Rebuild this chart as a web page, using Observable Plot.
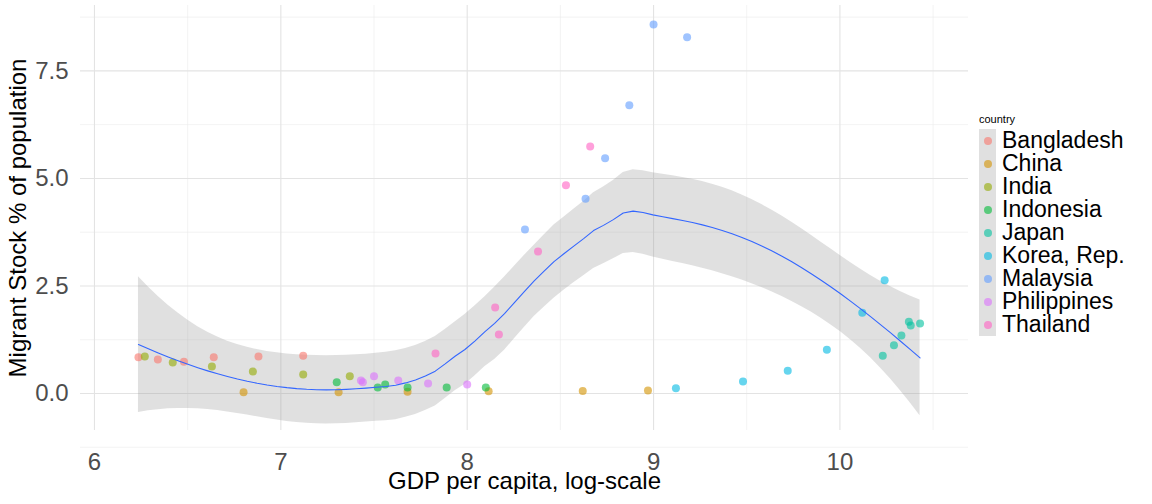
<!DOCTYPE html>
<html><head><meta charset="utf-8">
<script src="https://cdn.jsdelivr.net/npm/d3@7"></script>
<script src="https://cdn.jsdelivr.net/npm/@observablehq/plot@0.6"></script>
<style>
body{margin:0;background:#fff;font-family:"Liberation Sans",Arial,sans-serif}
#wrap{display:flex;align-items:flex-start}
#legend{margin-top:113px;margin-left:4px}
#legend .t{font-size:11px;margin-bottom:4px}
#legend .r{display:flex;align-items:center;height:23px;line-height:23px;font-size:23px;white-space:nowrap}
#legend .k{width:17px;height:23px;background:#e0e0e0;display:flex;align-items:center;justify-content:center;margin-right:6px}
#legend .d{width:8px;height:8px;border-radius:50%;opacity:.6}
</style></head><body>
<div id="wrap"><div id="chart"></div><div id="legend"></div></div>
<script>
const countries=["Bangladesh","China","India","Indonesia","Japan","Korea, Rep.","Malaysia","Philippines","Thailand"];
const colors=["#F8766D","#D39200","#93AA00","#00BA38","#00C19F","#00B9E3","#619CFF","#DB72FB","#FF61C3"];
const gdp={
"Bangladesh":[6.236,6.34,6.48,6.64,6.88,7.12],
"China":[6.80,7.31,7.68,8.115,8.62,8.97],
"India":[6.27,6.42,6.63,6.85,7.12,7.37],
"Indonesia":[7.30,7.52,7.56,7.68,7.89,8.10],
"Japan":[10.23,10.29,10.33,10.37,10.38,10.43],
"Korea, Rep.":[9.12,9.48,9.72,9.93,10.12,10.24],
"Malaysia":[8.31,8.635,8.74,8.87,9.0,9.18],
"Philippines":[7.43,7.44,7.50,7.63,7.79,8.0],
"Thailand":[7.83,8.15,8.17,8.38,8.53,8.66]};
const migr={
"Bangladesh":[0.84,0.79,0.74,0.84,0.86,0.88],
"China":[0.03,0.03,0.04,0.05,0.06,0.07],
"India":[0.86,0.72,0.63,0.51,0.44,0.40],
"Indonesia":[0.26,0.14,0.21,0.14,0.14,0.14],
"Japan":[0.88,1.12,1.35,1.67,1.58,1.63],
"Korea, Rep.":[0.12,0.28,0.53,1.02,1.88,2.63],
"Malaysia":[3.81,4.53,5.47,6.70,8.58,8.28],
"Philippines":[0.30,0.26,0.40,0.30,0.23,0.21],
"Thailand":[0.93,2.0,1.37,3.30,4.84,5.74]};
const data=countries.flatMap(c=>gdp[c].map((x,i)=>({country:c,x,y:migr[c][i]})));

const n=data.length, X=data.map(d=>d.x), Y=data.map(d=>d.y);
function inv3(m){const[a,b,c]=m[0],[d,e,f]=m[1],[g,h,i]=m[2];
  const A=e*i-f*h,B=-(d*i-f*g),C=d*h-e*g,det=a*A+b*B+c*C;
  return [[A/det,-(b*i-c*h)/det,(b*f-c*e)/det],[B/det,(a*i-c*g)/det,-(a*f-c*d)/det],[C/det,-(a*h-b*g)/det,(a*e-b*d)/det]];}
function weightsAt(x0){
  const dist=X.map(x=>Math.abs(x-x0)); const q=Math.floor(0.75*n);
  const h=[...dist].sort((a,b)=>a-b)[q-1]*1.0001;
  const w=dist.map(d=>{const u=d/h;return u<1?Math.pow(1-u*u*u,3):0;});
  const M=[[0,0,0],[0,0,0],[0,0,0]];
  for(let i=0;i<n;i++){const b=[1,X[i]-x0,(X[i]-x0)**2];for(let a=0;a<3;a++)for(let c=0;c<3;c++)M[a][c]+=w[i]*b[a]*b[c];}
  const inv=inv3(M);
  return X.map((x,i)=>{const b=[1,x-x0,(x-x0)**2];return w[i]*(inv[0][0]*b[0]+inv[0][1]*b[1]+inv[0][2]*b[2]);});
}
const Lrows=X.map(x=>weightsAt(x));
let rss=0;
Lrows.forEach((l,i)=>{const f=d3.sum(l.map((v,j)=>v*Y[j]));rss+=(Y[i]-f)**2;});
let delta1=0;
for(let i=0;i<n;i++)for(let j=0;j<n;j++){const v=(i===j?1:0)-Lrows[i][j];delta1+=v*v;}
const sigma=Math.sqrt(rss/delta1);
const tcrit=2.0;
const [xmin,xmax]=d3.extent(X);
const fit=d3.range(80).map(k=>{const x0=xmin+(xmax-xmin)*k/79;const l=weightsAt(x0);
  const f=d3.sum(l.map((v,j)=>v*Y[j]));const se=sigma*Math.sqrt(d3.sum(l.map(v=>v*v)));
  return {x:x0,y:f,lo:f-tcrit*se,hi:f+tcrit*se};});

const majorX=[6,7,8,9,10], minorX=[6.5,7.5,8.5,9.5,10.5];
const majorY=[0,2.5,5,7.5], minorY=[-1.25,1.25,3.75,6.25,8.75];
const chart=Plot.plot({
  width:975,height:504,marginLeft:80,marginRight:7,marginTop:5,marginBottom:74,
  style:{fontFamily:"Liberation Sans, Arial, sans-serif",background:"#fff",overflow:"visible"},
  x:{domain:[5.925,10.69],label:null},
  y:{domain:[-0.86,9.02],label:null},
  color:{domain:countries,range:colors},
  marks:[
    Plot.ruleX(minorX,{stroke:"#ebebeb",strokeWidth:0.6}),
    Plot.ruleY(minorY,{stroke:"#ebebeb",strokeWidth:0.6}),
    Plot.ruleX(majorX,{stroke:"#e3e3e3",strokeWidth:1.1}),
    Plot.ruleY(majorY,{stroke:"#e3e3e3",strokeWidth:1.1}),
    Plot.areaY(fit,{x:"x",y1:"lo",y2:"hi",fill:"#999",fillOpacity:0.3}),
    Plot.dot(data,{x:"x",y:"y",fill:"country",r:4,fillOpacity:0.6}),
    Plot.line(fit,{x:"x",y:"y",stroke:"#3366FF",strokeWidth:1.1}),
    Plot.axisX(majorX,{tickSize:0,tickPadding:22,fontSize:24,fill:"#4d4d4d",tickFormat:d=>d}),
    Plot.axisY(majorY,{tickSize:0,tickPadding:12,fontSize:24,fill:"#4d4d4d",tickFormat:d=>d.toFixed(1)}),
    Plot.text(["GDP per capita, log-scale"],{frameAnchor:"bottom",dy:58,fontSize:24,fill:"#000"}),
    Plot.text(["Migrant Stock % of population"],{frameAnchor:"left",textAnchor:"middle",dx:-62,rotate:-90,fontSize:24,fill:"#000"})
  ]});
document.getElementById("chart").appendChild(chart);
const lg=document.getElementById("legend");
lg.innerHTML='<div class="t">country</div>'+countries.map((c,i)=>`<div class="r"><div class="k"><div class="d" style="background:${colors[i]}"></div></div>${c}</div>`).join("");
</script></body></html>
